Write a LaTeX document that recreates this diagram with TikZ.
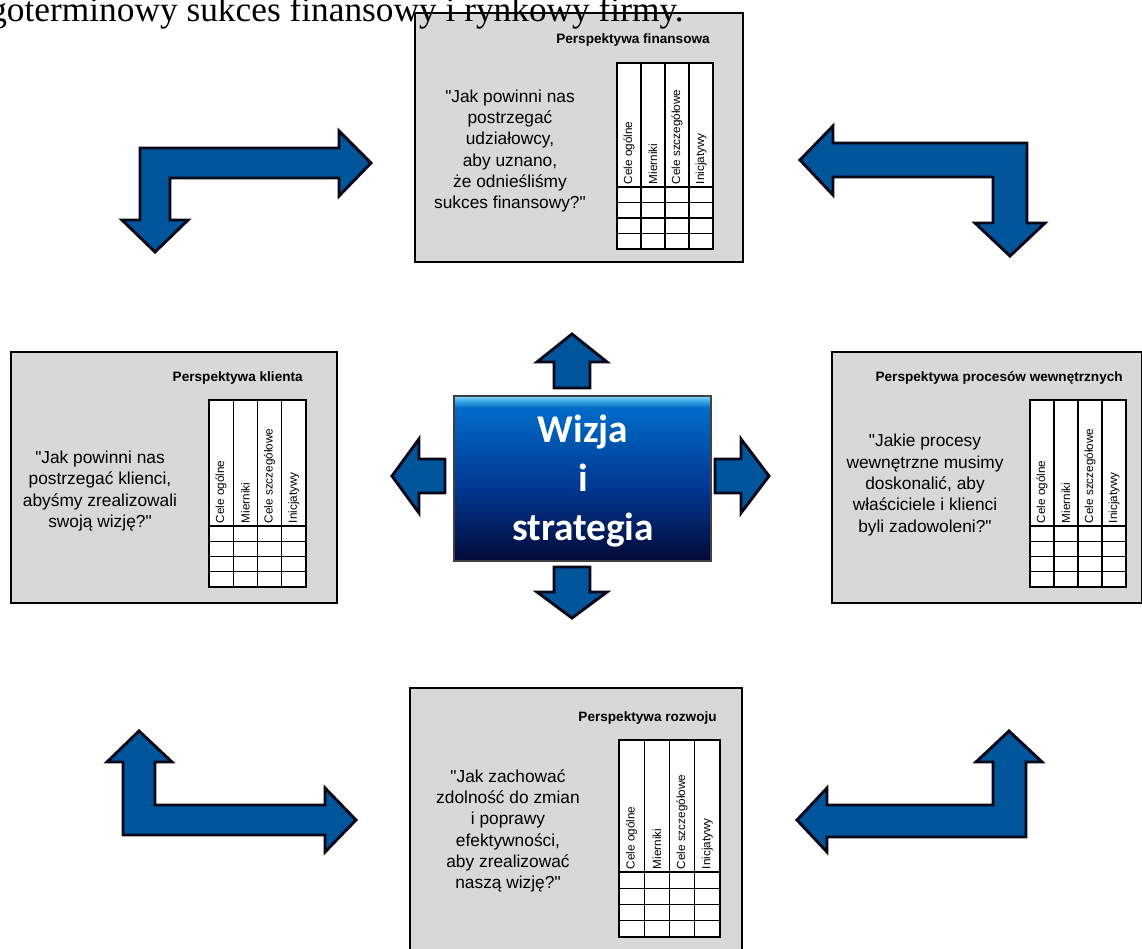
\documentclass[tikz,border=0pt]{standalone}
\usepackage{fontspec}
\setmainfont{Liberation Serif}
\newfontfamily\arialf{Liberation Sans}
\newfontfamily\calib{Carlito}
\definecolor{boxgray}{RGB}{216,216,216}
\definecolor{arrowblue}{RGB}{0,85,155}
\definecolor{arrowline}{RGB}{8,8,24}
\definecolor{wnavy}{RGB}{2,10,55}
\definecolor{wmid}{RGB}{0,55,145}
\definecolor{wtop}{RGB}{0,108,200}
\definecolor{wcyan}{RGB}{60,170,230}
\definecolor{wcyanl}{RGB}{130,215,245}
\pgfdeclareverticalshading{wizjashade}{100bp}{color(0bp)=(wnavy); color(25bp)=(wnavy); color(47bp)=(wmid); color(71.5bp)=(wtop); color(73.5bp)=(wcyan); color(75bp)=(wcyanl); color(100bp)=(wcyanl)}
\tikzset{
  persbox/.style={fill=boxgray, draw=black, line width=0.9pt},
  tabline/.style={draw=black, line width=1.1pt, line cap=rect},
  collabel/.style={rotate=90, anchor=west, inner sep=0pt, font=\arialf\fontsize{8.8}{10}\selectfont},
  titlef/.style={anchor=east, inner sep=0pt, font=\arialf\bfseries\fontsize{10.2}{12}\selectfont},
  qtext/.style={align=center, inner sep=0pt, font=\arialf\fontsize{13}{16}\selectfont},
  blockarrow/.style={fill=arrowblue, draw=arrowline, line width=2.2pt, line join=miter},
}
\newcommand{\bsctab}[6]{%
  \fill[white] (#2,#4) rectangle ({#2+4*#3},{#5+4*#6});
  \foreach \k in {0,...,4} {
    \draw[tabline] ({#2+\k*#3},#4) -- ({#2+\k*#3},{#5+4*#6});
    \draw[tabline] (#2,{#5+\k*#6}) -- ({#2+4*#3},{#5+\k*#6});
  }
  \draw[tabline] (#2,#4) -- ({#2+4*#3},#4);
  \foreach \i/\t in {0/Cele ogólne,1/Mierniki,2/Cele szczegółowe,3/Inicjatywy}
    \node[collabel] (#1-\i) at ({#2+(\i+0.5)*#3},{#5-2.5}) {\t};
}
\begin{document}
\begin{tikzpicture}[x=0.75pt,y=-0.75pt]
\useasboundingbox (0,0) rectangle (1142,949);
\begin{scope}
\clip (0,0) rectangle (1142,949);

% perspective boxes
\path[persbox] (415,13) rectangle (743,262);
\path[persbox] (11,352) rectangle (337,603);
\path[persbox] (832,352) rectangle (1141.5,603);
\path[persbox] (410,688) rectangle (742,952);

% heading line cut at top (drawn over the top box)
\node[anchor=base east, inner sep=0pt, font=\fontsize{26.5}{30}\selectfont] (head) at (684,22) {długoterminowy sukces finansowy i rynkowy firmy.};

% tables
\bsctab{tabF}{617}{24}{63}{187}{15.5}
\bsctab{tabK}{209}{24.25}{400}{526}{15.25}
\bsctab{tabP}{1030}{24}{400}{526}{15.25}
\bsctab{tabR}{619}{25.25}{740}{872}{16.25}

% titles
\node[titlef] (tF) at (710,40) {Perspektywa finansowa};
\node[titlef] (tK) at (303,378) {Perspektywa klienta};
\node[titlef] (tP) at (1123,378) {Perspektywa procesów wewnętrznych};
\node[titlef] (tR) at (717,718) {Perspektywa rozwoju};

% questions
\node[qtext] (qF) at (510,151) {"Jak powinni nas\\postrzegać\\udziałowcy,\\aby uznano,\\że odnieśliśmy\\sukces finansowy?"};
\node[qtext] (qK) at (100,491) {"Jak powinni nas\\postrzegać klienci,\\abyśmy zrealizowali\\swoją wizję?"};
\node[qtext] (qP) at (925,485) {"Jakie procesy\\wewnętrzne musimy\\doskonalić, aby\\właściciele i klienci\\byli zadowoleni?"};
\node[qtext] (qR) at (508,831) {"Jak zachować\\zdolność do zmian\\i poprawy\\efektywności,\\aby zrealizować\\naszą wizję?"};

% central box
\shade[shading=wizjashade] (454,396) rectangle (711,561);
\draw[black!75, line width=1.2pt] (454,396) rectangle (711,561);
\node[shape=rectangle, minimum width=192.75pt, minimum height=123.75pt, inner sep=0pt] (wizja) at (582.5,478.5) {};
\node[align=center, text=white, inner sep=0pt, font=\calib\bfseries\fontsize{29.5}{36.75}\selectfont] (wizjatxt) at (583,481) {Wizja\\i\\strategia};

% small block arrows around centre
\draw[blockarrow] (572,334) -- (607,362) -- (590,362) -- (590,388) -- (554,388) -- (554,362) -- (537,362) -- cycle;
\draw[blockarrow] (554,567) -- (590,567) -- (590,592) -- (607,592) -- (572,618) -- (537,592) -- (554,592) -- cycle;
\draw[blockarrow] (392,476) -- (419,439) -- (419,459) -- (445,459) -- (445,493) -- (419,493) -- (419,513) -- cycle;
\draw[blockarrow] (715,459) -- (741,459) -- (741,439) -- (769,476) -- (741,513) -- (741,493) -- (715,493) -- cycle;

% bent arrows
\draw[blockarrow] (140,148) -- (339,148) -- (339,131) -- (371,163) -- (339,196) -- (339,178) -- (170,178) -- (170,220) -- (188,220) -- (155,252) -- (122,220) -- (140,220) -- cycle;
\draw[blockarrow] (1027,143) -- (833,143) -- (833,126) -- (800,160) -- (833,195) -- (833,177) -- (993,177) -- (993,223) -- (975,223) -- (1010,256) -- (1045,223) -- (1027,223) -- cycle;
\draw[blockarrow] (123,835) -- (325,835) -- (325,852) -- (356,820) -- (325,788) -- (325,805) -- (155,805) -- (155,762) -- (172,762) -- (139,731) -- (107,762) -- (123,762) -- cycle;
\draw[blockarrow] (1026,837) -- (827,837) -- (827,852) -- (797,820) -- (827,788) -- (827,805) -- (993,805) -- (993,762) -- (976,762) -- (1009,731) -- (1042,762) -- (1026,762) -- cycle;
\end{scope}
\end{tikzpicture}
\end{document}
